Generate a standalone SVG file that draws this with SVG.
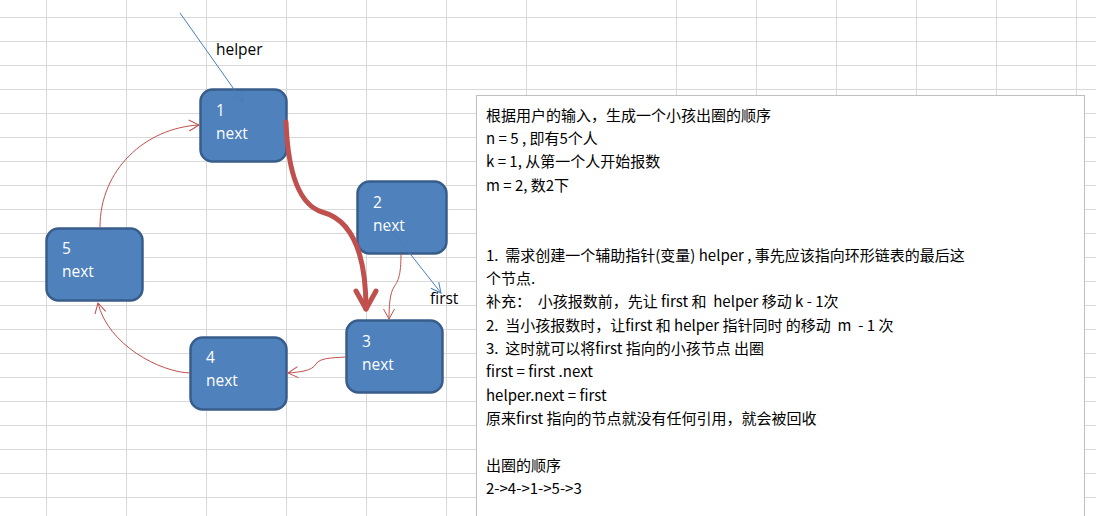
<svg xmlns="http://www.w3.org/2000/svg" width="1096" height="516" viewBox="0 0 1096 516">
<style>
.grid line{stroke:#d9d9d9;stroke-width:1}
.node rect{fill:#4f81bd;stroke:#385d8a;stroke-width:2.5}
.node text{fill:#ffffff;font-family:"Open Sans","Liberation Sans",sans-serif;font-size:15.5px}
.lbl{fill:#000;font-family:"Open Sans","Liberation Sans",sans-serif;font-size:15.5px}
.red{fill:none;stroke:#c0504d;stroke-width:1}
.blue{fill:none;stroke:#4a7ebb;stroke-width:1}
.thick{fill:none;stroke:#c0504d;stroke-width:5;stroke-linecap:round}
.box{fill:#ffffff;stroke:#bfbfbf;stroke-width:1}
.t{fill:#000;font-family:"Noto Sans CJK SC","Liberation Sans",sans-serif;font-size:15px}
</style>
<defs>
<marker id="ar" markerUnits="userSpaceOnUse" markerWidth="14" markerHeight="14" viewBox="-12 -7 14 14" refX="0" refY="0" orient="auto" overflow="visible">
<path d="M-10,-5.5 L0,0 L-10,5.5" fill="none" stroke="#c0504d" stroke-width="1"/>
</marker>
<marker id="ab" markerUnits="userSpaceOnUse" markerWidth="14" markerHeight="14" viewBox="-12 -7 14 14" refX="0" refY="0" orient="auto" overflow="visible">
<path d="M-10,-5 L0,0 L-10,5" fill="none" stroke="#4a7ebb" stroke-width="1"/>
</marker>
<marker id="at" markerUnits="userSpaceOnUse" markerWidth="30" markerHeight="30" viewBox="-20 -15 30 30" refX="0" refY="0" orient="auto" overflow="visible">
<path d="M-18,-10 L0,0 L-18,10" fill="none" stroke="#c0504d" stroke-width="5" stroke-linecap="round" stroke-linejoin="round"/>
</marker>
</defs>
<rect x="0" y="0" width="1096" height="516" fill="#ffffff"/>
<g class="grid">
<line x1="46.5" y1="0" x2="46.5" y2="516"/>
<line x1="126.5" y1="0" x2="126.5" y2="516"/>
<line x1="206.5" y1="0" x2="206.5" y2="516"/>
<line x1="286.5" y1="0" x2="286.5" y2="516"/>
<line x1="366.5" y1="0" x2="366.5" y2="516"/>
<line x1="446.5" y1="0" x2="446.5" y2="516"/>
<line x1="526.5" y1="0" x2="526.5" y2="516"/>
<line x1="676.5" y1="0" x2="676.5" y2="516"/>
<line x1="756.5" y1="0" x2="756.5" y2="516"/>
<line x1="836.5" y1="0" x2="836.5" y2="516"/>
<line x1="916.5" y1="0" x2="916.5" y2="516"/>
<line x1="996.5" y1="0" x2="996.5" y2="516"/>
<line x1="1076.5" y1="0" x2="1076.5" y2="516"/>
<line x1="0" y1="17.5" x2="1096" y2="17.5"/>
<line x1="0" y1="41.5" x2="1096" y2="41.5"/>
<line x1="0" y1="65.5" x2="1096" y2="65.5"/>
<line x1="0" y1="89.5" x2="1096" y2="89.5"/>
<line x1="0" y1="113.5" x2="1096" y2="113.5"/>
<line x1="0" y1="137.5" x2="1096" y2="137.5"/>
<line x1="0" y1="161.5" x2="1096" y2="161.5"/>
<line x1="0" y1="185.5" x2="1096" y2="185.5"/>
<line x1="0" y1="209.5" x2="1096" y2="209.5"/>
<line x1="0" y1="233.5" x2="1096" y2="233.5"/>
<line x1="0" y1="257.5" x2="1096" y2="257.5"/>
<line x1="0" y1="281.5" x2="1096" y2="281.5"/>
<line x1="0" y1="305.5" x2="1096" y2="305.5"/>
<line x1="0" y1="329.5" x2="1096" y2="329.5"/>
<line x1="0" y1="353.5" x2="1096" y2="353.5"/>
<line x1="0" y1="377.5" x2="1096" y2="377.5"/>
<line x1="0" y1="401.5" x2="1096" y2="401.5"/>
<line x1="0" y1="425.5" x2="1096" y2="425.5"/>
<line x1="0" y1="449.5" x2="1096" y2="449.5"/>
<line x1="0" y1="473.5" x2="1096" y2="473.5"/>
<line x1="0" y1="497.5" x2="1096" y2="497.5"/>
</g>
<g id="node1" class="node"><rect x="200.5" y="89.5" width="86" height="72" rx="12"/><text x="216" y="116">1</text><text x="216" y="139">next</text></g>
<g id="node2" class="node"><rect x="357.5" y="181.5" width="89" height="72" rx="12"/><text x="373" y="208">2</text><text x="373" y="231">next</text></g>
<g id="node3" class="node"><rect x="346.5" y="320.5" width="96" height="72" rx="12"/><text x="362" y="347">3</text><text x="362" y="370">next</text></g>
<g id="node4" class="node"><rect x="190.5" y="337.5" width="96" height="72" rx="12"/><text x="206" y="363">4</text><text x="206" y="386">next</text></g>
<g id="node5" class="node"><rect x="46.5" y="228.5" width="96" height="72" rx="12"/><text x="62" y="254">5</text><text x="62" y="277">next</text></g>
<g id="connectors">
<path class="red" d="M100,227 C100,170 145,128 199,125" marker-end="url(#ar)"/>
<path class="red" d="M401,254 C401,276 398,281 394,287 C390,293 389,305 389,319" marker-end="url(#ar)"/>
<path class="red" d="M346,357 C330,358 320,358 316,364 C312,371 300,372 288,373" marker-end="url(#ar)"/>
<path class="red" d="M190,373 C160,372 108,345 98,303" marker-end="url(#ar)"/>
<path class="thick" d="M286,122 C288,175 300,205 322,212 C345,218 366,240 366,309" marker-end="url(#at)"/>
<path class="blue" d="M180,13 L243,102" marker-end="url(#ab)"/>
<path class="blue" d="M378,213 L441,293" marker-end="url(#ab)"/>
<text class="lbl" x="216" y="55">helper</text>
<text class="lbl" x="430" y="304">first</text>
</g>
<g id="notes">
<rect class="box" x="476.5" y="95.5" width="608" height="440"/>
<text class="t" xml:space="preserve" x="486" y="120.5">根据用户的输入，生成一个小孩出圈的顺序</text>
<text class="t" xml:space="preserve" x="486" y="143.9">n = 5 , 即有5个人</text>
<text class="t" xml:space="preserve" x="486" y="167.2">k = 1, 从第一个人开始报数</text>
<text class="t" xml:space="preserve" x="486" y="190.6">m = 2, 数2下</text>
<text class="t" xml:space="preserve" x="486" y="260.6">1.  需求创建一个辅助指针(变量) helper , 事先应该指向环形链表的最后这</text>
<text class="t" xml:space="preserve" x="486" y="284">个节点.</text>
<text class="t" xml:space="preserve" x="486" y="307.3">补充：  小孩报数前，先让 first 和  helper 移动 k - 1次</text>
<text class="t" xml:space="preserve" x="486" y="330.7">2.  当小孩报数时，让first 和 helper 指针同时 的移动  m  - 1 次</text>
<text class="t" xml:space="preserve" x="486" y="354">3.  这时就可以将first 指向的小孩节点 出圈</text>
<text class="t" xml:space="preserve" x="486" y="377.4">first = first .next</text>
<text class="t" xml:space="preserve" x="486" y="400.7">helper.next = first</text>
<text class="t" xml:space="preserve" x="486" y="424.1">原来first 指向的节点就没有任何引用，就会被回收</text>
<text class="t" xml:space="preserve" x="486" y="470.8">出圈的顺序</text>
<text class="t" xml:space="preserve" x="486" y="494.1">2-&gt;4-&gt;1-&gt;5-&gt;3</text>
</g>
</svg>
